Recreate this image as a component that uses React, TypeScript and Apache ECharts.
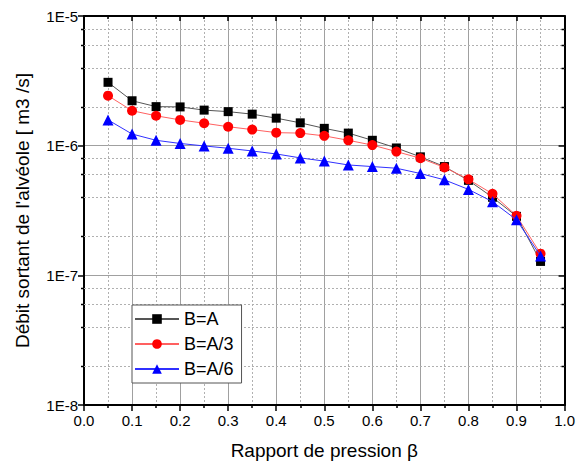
import React, { useEffect, useRef } from "react";
import * as echarts from "echarts";

const xValues = [0.05, 0.1, 0.15, 0.2, 0.25, 0.3, 0.35, 0.4, 0.45, 0.5, 0.55, 0.6, 0.65, 0.7, 0.75, 0.8, 0.85, 0.9, 0.95];
const seriesA = [3.08e-6, 2.22e-6, 2.0e-6, 1.99e-6, 1.88e-6, 1.83e-6, 1.75e-6, 1.63e-6, 1.5e-6, 1.36e-6, 1.25e-6, 1.1e-6, 0.96e-6, 8.2e-7, 6.9e-7, 5.4e-7, 4.0e-7, 2.85e-7, 1.28e-7];
const seriesA3 = [2.43e-6, 1.86e-6, 1.7e-6, 1.58e-6, 1.49e-6, 1.4e-6, 1.33e-6, 1.26e-6, 1.25e-6, 1.19e-6, 1.1e-6, 1.01e-6, 0.9e-6, 8.0e-7, 6.8e-7, 5.5e-7, 4.25e-7, 2.88e-7, 1.47e-7];
const seriesA6 = [1.58e-6, 1.23e-6, 1.1e-6, 1.04e-6, 0.995e-6, 0.955e-6, 0.91e-6, 0.863e-6, 8.05e-7, 7.6e-7, 7.1e-7, 6.9e-7, 6.7e-7, 6.1e-7, 5.45e-7, 4.6e-7, 3.7e-7, 2.68e-7, 1.41e-7];
const seriesNames = ["B=A", "B=A/3", "B=A/6"];
const minorYValues = [
  2e-8, 4e-8, 6e-8, 8e-8,
  2e-7, 4e-7, 6e-7, 8e-7,
  2e-6, 4e-6, 6e-6, 8e-6,
];
const X_MIN = 0;
const X_MAX = 1;
const Y_MIN = 1e-8;
const Y_MAX = 1e-5;

const FONT = "Liberation Sans, Arial, sans-serif";
const DOT = "#b0b0b0";

export default function App() {
  const ref = useRef<HTMLDivElement>(null);
  useEffect(() => {
    document.body.style.margin = "0";
    const chart = echarts.init(ref.current!, null, { renderer: "svg" });
    const pair = (arr: number[]) => xValues.map((x, i) => [x, arr[i]]);

    const option: any = {
      animation: false,
      backgroundColor: "#ffffff",
      textStyle: { fontFamily: FONT },
      grid: { left: 84, right: 12, top: 16, bottom: 67 },
      legend: {
        data: seriesNames,
        orient: "vertical",
        left: 132,
        top: 305,
        itemWidth: 44,
        itemHeight: 12,
        itemGap: 7,
        padding: [5, 8, 5, 2],
        borderColor: "#555555",
        borderWidth: 1,
        backgroundColor: "#ffffff",
        textStyle: { fontFamily: FONT, fontSize: 18, color: "#000", lineHeight: 18 },
      },
      xAxis: [
        {
          type: "value",
          min: X_MIN,
          max: X_MAX,
          interval: 0.1,
          position: "bottom",
          axisLine: { show: true, onZero: false, lineStyle: { color: "#000", width: 2 } },
          axisTick: { show: true, inside: false, length: 6, lineStyle: { color: "#000", width: 1.5 } },
          minorTick: { show: true, splitNumber: 2, length: 3, lineStyle: { color: "#000", width: 1.5 } },
          axisLabel: {
            fontFamily: FONT,
            fontSize: 15,
            color: "#000",
            margin: 8,
            formatter: (v: number) => v.toFixed(1),
          },
          splitLine: { show: true, lineStyle: { color: "#a0a0a0", width: 1 } },
          minorSplitLine: { show: true, lineStyle: { color: DOT, width: 1, type: [2, 2] } },
          name: "Rapport de pression β",
          nameLocation: "middle",
          nameGap: 36,
          nameTextStyle: { fontFamily: FONT, fontSize: 19, color: "#000" },
        },
        {
          type: "value",
          min: X_MIN,
          max: X_MAX,
          interval: 0.1,
          position: "top",
          axisLine: { show: true, onZero: false, lineStyle: { color: "#000", width: 2 } },
          axisTick: { show: true, inside: true, length: 5, lineStyle: { color: "#000", width: 1.5 } },
          minorTick: { show: true, splitNumber: 2, length: 3, lineStyle: { color: "#000", width: 1.5 } },
          axisLabel: { show: false },
          splitLine: { show: false },
        },
      ],
      yAxis: [
        {
          type: "log",
          logBase: 10,
          min: Y_MIN,
          max: Y_MAX,
          position: "left",
          axisLine: { show: true, onZero: false, lineStyle: { color: "#000", width: 2 } },
          axisTick: { show: true, inside: false, length: 6, lineStyle: { color: "#000", width: 1.5 } },
          axisLabel: {
            fontFamily: FONT,
            fontSize: 15,
            color: "#000",
            margin: 6,
            formatter: (v: number) => "1E" + Math.round(Math.log10(v)),
          },
          splitLine: { show: true, lineStyle: { color: "#a0a0a0", width: 1 } },
          name: "Débit sortant de l'alvéole [ m3 /s]",
          nameLocation: "middle",
          nameGap: 52,
          nameRotate: 90,
          nameTextStyle: { fontFamily: FONT, fontSize: 19, color: "#000" },
        },
        {
          type: "log",
          logBase: 10,
          min: Y_MIN,
          max: Y_MAX,
          position: "right",
          axisLine: { show: true, onZero: false, lineStyle: { color: "#000", width: 2 } },
          axisTick: { show: true, inside: true, length: 6, lineStyle: { color: "#000", width: 1.5 } },
          axisLabel: { show: false },
          splitLine: { show: false },
        },
      ],
      series: [
        {
          type: "line",
          name: seriesNames[0],
          data: pair(seriesA),
          symbol: "rect",
          symbolSize: 9,
          z: 3,
          itemStyle: { color: "#000000" },
          lineStyle: { color: "#555555", width: 1 },
        },
        {
          type: "line",
          name: seriesNames[1],
          data: pair(seriesA3),
          symbol: "circle",
          symbolSize: 10,
          z: 4,
          itemStyle: { color: "#ff0000" },
          lineStyle: { color: "#ff6060", width: 1 },
        },
        {
          type: "line",
          name: seriesNames[2],
          data: pair(seriesA6),
          symbol: "triangle",
          symbolSize: 11,
          z: 5,
          itemStyle: { color: "#0000ff" },
          lineStyle: { color: "#3030ff", width: 1 },
        },
      ],
    };
    chart.setOption(option);

    // Minor log gridlines and ticks, placed through the chart's own scales.
    const left = chart.convertToPixel({ xAxisIndex: 0 }, X_MIN) as number;
    const right = chart.convertToPixel({ xAxisIndex: 0 }, X_MAX) as number;
    const elements: any[] = [];
    minorYValues.forEach((v) => {
      const yRaw = chart.convertToPixel({ yAxisIndex: 0 }, v) as any;
      const y = Array.isArray(yRaw) ? yRaw[1] : yRaw;
      if (typeof y !== "number" || !isFinite(y)) return;
      const yy = Math.round(y) + 0.5;
      elements.push({
        type: "line",
        silent: true,
        z: 1,
        shape: { x1: left, y1: yy, x2: right, y2: yy },
        style: { stroke: DOT, lineWidth: 1, lineDash: [2, 2] },
      });
      elements.push({
        type: "line",
        silent: true,
        z: 10,
        shape: { x1: left - 3, y1: yy, x2: left, y2: yy },
        style: { stroke: "#000", lineWidth: 1.5 },
      });
      elements.push({
        type: "line",
        silent: true,
        z: 10,
        shape: { x1: right - 3, y1: yy, x2: right, y2: yy },
        style: { stroke: "#000", lineWidth: 1.5 },
      });
    });
    chart.setOption({ graphic: elements });

    return () => chart.dispose();
  }, []);
  return (
    <div
      ref={ref}
      style={{ position: "absolute", left: 0, top: 0, width: 578, height: 472 }}
    />
  );
}
